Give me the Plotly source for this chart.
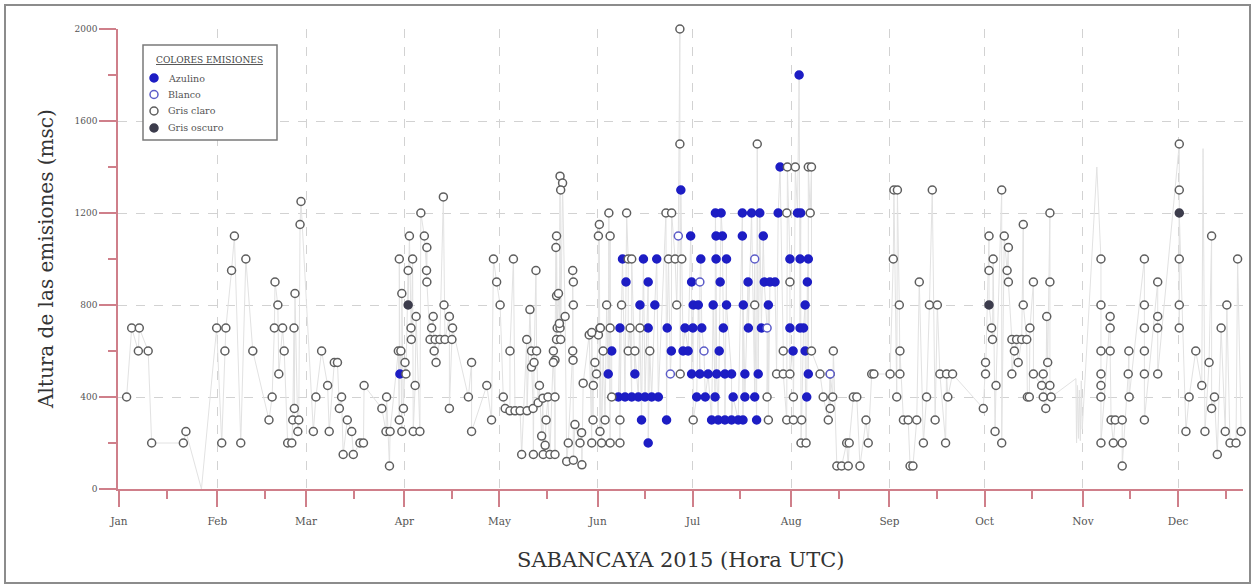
import numpy as np
import pandas as pd
import plotly.graph_objects as go

# ---- Emisiones del Sabancaya 2015: dia del año (fraccion = hora UTC) y altura (m sobre el crater) ----

azulino_dia = [89.6, 178.2, 215.5, 209.5,
               189.1, 190.9, 197.6, 203.1, 215.0, 216.0, 200.5, 208.9,
               181.3, 191.3, 197.6, 204.2, 189.3,
               166.4, 170.6, 184.5, 189.3, 192.6, 212.6, 215.8, 218.4, 159.8,
               181.6, 190.6, 199.4, 204.5, 206.3, 207.9, 218.1, 160.9, 167.9,
               170.0, 182.1, 183.7, 188.4, 192.6, 205.8, 217.4, 165.3, 197.9,
               167.9, 173.9, 179.5, 182.0, 184.8, 191.6, 199.5, 212.6, 215.8, 216.9, 159.0, 203.6,
               156.4, 178.9, 180.5, 190.3, 175.2, 213.6, 217.4,
               155.3, 181.6, 184.2, 186.8, 189.5, 192.1, 194.2, 198.4, 202.6, 218.4, 163.7,
               158.5, 160.6, 162.7, 164.8, 166.9, 169.0, 171.1, 183.2, 185.9, 189.0, 198.4, 201.5, 217.9, 194.7,
               173.7, 187.9, 190.0, 192.1, 194.2, 196.3, 197.8, 165.8, 202.1,
               167.9]
azulino_alt = [500, 1300, 1800, 1400,
               1200, 1200, 1200, 1200, 1200, 1200, 1200, 1200,
               1100, 1100, 1100, 1100, 1100,
               1000, 1000, 1000, 1000, 1000, 1000, 1000, 1000, 1000,
               900, 900, 900, 900, 900, 900, 900, 900, 900,
               800, 800, 800, 800, 800, 800, 800, 800, 800,
               700, 700, 700, 700, 700, 700, 700, 700, 700, 700, 700, 700,
               600, 600, 600, 600, 600, 600, 600,
               500, 500, 500, 500, 500, 500, 500, 500, 500, 500, 500,
               400, 400, 400, 400, 400, 400, 400, 400, 400, 400, 400, 400, 400, 400,
               300, 300, 300, 300, 300, 300, 300, 300, 300,
               200]

blanco_dia = [177.4, 184.2, 185.5, 201.5, 205.4, 174.9, 225.3]
blanco_alt = [1100, 900, 600, 1000, 700, 500, 500]

gris_claro_dia = [
    # enero - febrero
    3.4, 5.0, 7.4, 7.1, 10.2, 11.3, 21.3, 22.1,
    31.8, 34.7, 34.4, 33.4, 36.5, 37.4, 39.4, 41.0, 43.2,
    48.3, 49.3, 50.2, 51.1, 50.0, 52.6, 53.1, 51.4, 54.2, 55.5,
    56.3, 55.8, 57.7, 57.4, 56.2, 56.5, 58.1, 58.4,
    # marzo
    62.3, 63.1, 64.9, 66.8, 67.3, 68.9, 69.9, 71.2, 70.5, 73.0, 74.4, 71.7, 74.9,
    77.0, 78.1, 78.3, 83.9, 85.4, 85.2, 86.5, 86.3, 89.4,
    # abril
    90.7, 90.2, 93.8, 95.9, 91.5, 91.2, 89.1, 89.9, 94.4, 90.2, 94.7, 93.1, 93.2,
    89.4, 93.6, 92.2, 92.6, 97.3, 98.1, 98.0, 98.1, 96.2, 103.3, 103.5, 100.1, 105.2,
    99.6, 106.2, 99.1, 100.7, 102.2, 103.8, 106.0, 100.4, 101.0, 105.2, 111.2, 112.2,
    112.2, 117.0, 118.5,
    # mayo
    119.1, 120.1, 121.2, 122.2, 122.8, 124.3, 125.9, 127.5, 129.7, 131.6, 133.2, 134.7,
    136.3, 138.5, 125.4, 124.3, 128.0, 131.7, 134.8, 136.9, 138.5, 130.6, 132.5, 129.6,
    131.1, 132.7, 131.1, 133.6, 135.7, 134.3, 135.4, 138.5,
    139.0, 139.2, 139.0, 138.8, 139.0, 140.1, 140.9, 140.3, 139.6, 140.1, 140.3, 141.7, 139.9,
    144.2, 144.1, 144.3, 144.3, 144.1, 138.0, 138.0, 131.9, 147.4, 150.6,
    142.7, 146.4, 150.1, 142.2, 144.3, 147.0, 144.8, 146.9, 152.7,
    # junio - agosto
    153.2, 155.9, 159.0, 149.3, 152.2, 151.1, 152.5, 152.2, 155.9, 155.5, 161.1, 173.5,
    175.3, 177.9, 177.9, 202.3, 151.6, 153.7, 150.1, 152.7, 150.5, 154.3, 159.0, 156.4,
    161.6, 162.7, 174.3, 176.4, 178.5, 212.6,
    154.8, 159.5, 176.9, 201.5,
    152.8, 155.9, 162.2, 165.3,
    161.6, 163.7, 168.4, 210.5,
    178.0, 208.4, 210.5, 212.6,
    205.4, 213.7, 223.1, 226.1, 225.3,
    182.1, 205.8, 211.6, 213.7, 224.7,
    216.1, 217.7, 230.5,
    211.8, 214.3, 218.4, 211.6, 219.0,
    # fin de agosto - septiembre
    219.4, 219.4, 226.3, 222.1, 225.3, 232.6, 233.7, 216.3, 231.3, 237.3,
    227.4, 228.9, 231.0, 234.7, 236.6, 238.4, 239.1,
    244.2, 247.3, 245.4, 246.5, 245.2, 247.1, 247.3, 246.3, 248.4, 249.9, 252.6,
    250.5, 251.4, 257.5, 253.4, 256.6, 259.1, 255.7, 258.4, 254.7, 259.9, 262.0,
    263.9, 262.4, 261.7,
    # octubre
    273.6, 279.4, 275.4, 280.2, 281.5, 286.2, 276.7, 275.4, 281.1, 281.5, 286.2,
    276.2, 276.5, 282.6, 284.1, 285.7, 287.3, 283.4, 274.3, 284.6, 274.3, 282.6,
    277.6, 277.3, 279.4, 287.5, 294.6, 289.4, 294.6, 293.6, 288.3, 293.9, 289.4,
    292.5, 292.0, 294.6, 288.1, 292.5, 295.0, 293.3,
    # noviembre
    310.7, 310.7, 310.7, 310.7, 310.7, 310.7, 310.7, 313.6, 313.6, 313.6, 313.9,
    315.2, 317.4, 314.6, 317.4, 317.4, 319.5, 319.3, 319.6, 324.4, 324.4, 324.4,
    324.4, 324.4, 324.4, 328.6, 328.6, 328.6, 328.6,
    # diciembre
    335.4, 335.4, 335.4, 335.4, 335.4, 338.5, 337.5, 340.6, 342.5, 343.5, 344.8,
    345.6, 346.5, 345.6, 347.4, 348.6, 349.9, 350.4, 351.4, 353.3, 353.8, 354.9,
]
gris_claro_alt = [
    400, 700, 700, 600, 600, 200, 200, 250,
    700, 700, 600, 200, 950, 1100, 200, 1000, 600,
    300, 400, 900, 800, 700, 700, 600, 500, 200, 200,
    350, 300, 300, 250, 700, 850, 1150, 1250,
    250, 400, 600, 450, 250, 550, 550, 400, 350, 300, 250, 150, 150,
    200, 200, 450, 350, 400, 250, 250, 100, 300,
    350, 250, 250, 250, 500, 550, 600, 600, 450, 850, 750, 700, 650,
    1000, 1000, 950, 1100, 1100, 1050, 950, 900, 1200, 1270, 800, 750, 750,
    700, 700, 650, 650, 650, 650, 650, 600, 550, 350, 400, 550,
    250, 450, 300,
    1000, 900, 800, 400, 350, 340, 340, 340, 340, 350, 375, 395,
    400, 400, 1000, 600, 150, 150, 150, 150, 150, 780, 950, 650,
    600, 600, 530, 450, 300, 230, 190, 560,
    650, 700, 840, 1050, 1100, 1360, 1330, 1300, 850, 700, 650, 750, 720,
    560, 600, 800, 900, 950, 600, 550, 550, 460, 450,
    200, 200, 200, 120, 125, 105, 280, 245, 250,
    200, 200, 200, 670, 670, 550, 1150, 1100, 1100, 1200, 1200, 1200,
    1200, 2000, 1500, 1500, 500, 600, 680, 700, 300, 300, 300, 400,
    1000, 1000, 1000, 1000, 1000, 900,
    800, 800, 800, 800,
    700, 700, 700, 700,
    600, 600, 600, 600,
    500, 500, 500, 500,
    400, 400, 400, 400, 350,
    300, 300, 300, 300, 300,
    200, 200, 200,
    1400, 1400, 1400, 1200, 1200,
    1400, 600, 600, 500, 500, 400, 400, 300, 200, 200,
    100, 100, 100, 100, 300, 500, 500,
    500, 500, 1300, 1300, 1000, 800, 600, 400, 300, 300, 300,
    100, 100, 1300, 900, 800, 800, 400, 300, 200, 500, 500,
    500, 400, 200,
    350, 1300, 1100, 1100, 1050, 1150, 1000, 950, 950, 900, 800,
    700, 650, 650, 650, 650, 650, 600, 550, 550, 500, 500,
    450, 250, 200, 400, 1200, 900, 900, 750, 700, 550, 500,
    500, 450, 450, 400, 400, 400, 350,
    1000, 800, 600, 500, 450, 400, 200, 750, 700, 600, 300,
    300, 300, 200, 200, 100, 600, 500, 400, 1000, 800, 700,
    600, 500, 300, 900, 750, 700, 500,
    1500, 1300, 1000, 800, 700, 400, 250, 600, 450, 250, 550,
    1100, 400, 350, 150, 700, 250, 800, 200, 200, 1000, 250,
]

gris_oscuro_dia = [92.2, 275.4, 335.4]
gris_oscuro_alt = [800, 800, 1200]

# registros sin color asignado (solo aparecen en la serie continua)
sin_color_dia = [27.0, 302.8, 303.0, 303.3, 303.6, 303.9, 304.2, 304.5, 304.8, 309.4, 342.9]
sin_color_alt = [0, 480, 200, 450, 220, 430, 210, 470, 260, 1400, 1480]

INICIO = pd.Timestamp("2015-01-01")


def a_fecha(dias):
    return INICIO + pd.to_timedelta(np.asarray(dias, dtype=float) - 1.0, unit="D")


# serie continua ordenada en el tiempo
todos_dia = np.concatenate([azulino_dia, blanco_dia, gris_claro_dia, gris_oscuro_dia, sin_color_dia])
todos_alt = np.concatenate([azulino_alt, blanco_alt, gris_claro_alt, gris_oscuro_alt, sin_color_alt])
orden = np.argsort(todos_dia, kind="stable")

AXIS_RED = "#cf7f8a"
GRID = "#d2d2d2"
SERIF = "DejaVu Serif"

fig = go.Figure()

fig.add_trace(go.Scatter(
    x=a_fecha(todos_dia[orden]), y=todos_alt[orden], mode="lines",
    line=dict(color="#e2e2e2", width=1), hoverinfo="skip", showlegend=False,
))

estilos = [
    ("Azulino", azulino_dia, azulino_alt, "#1d1dc4", "#1d1dc4"),
    ("Gris claro", gris_claro_dia, gris_claro_alt, "white", "#5e5e5e"),
    ("Blanco", blanco_dia, blanco_alt, "white", "#5c5cc8"),
    ("Gris oscuro", gris_oscuro_dia, gris_oscuro_alt, "#3c3c4c", "#3c3c4c"),
]
for nombre, dia, alt, relleno, borde in estilos:
    fig.add_trace(go.Scatter(
        x=a_fecha(dia), y=alt, mode="markers", name=nombre, showlegend=False,
        marker=dict(symbol="circle", size=8, color=relleno, line=dict(color=borde, width=1.5)),
        cliponaxis=False,
    ))

# geometria del area de trazado (pixeles)
L, R, T, B = 118, 1243, 29, 489
W, H = R - L, B - T


def px(xp):
    return (xp - L) / W


def py(yp):
    return (B - yp) / H


shapes = [
    # marco exterior
    dict(type="rect", xref="paper", yref="paper", x0=px(5), x1=px(1250), y0=py(583), y1=py(5),
         line=dict(color="#8c8c8c", width=2), fillcolor="rgba(0,0,0,0)", layer="below"),
    # caja de la leyenda
    dict(type="rect", xref="paper", yref="paper", x0=px(143), x1=px(277), y0=py(140), y1=py(45),
         line=dict(color="#7a7a7a", width=1.5), fillcolor="white", layer="above"),
]

annotations = [
    dict(text="<u>COLORES EMISIONES</u>", xref="paper", yref="paper", x=px(209), y=py(60),
         showarrow=False, font=dict(family=SERIF, size=9, color="#444"), xanchor="center", yanchor="middle"),
    dict(text="SABANCAYA 2015 (Hora UTC)", xref="paper", yref="paper", x=0.5, y=py(560),
         showarrow=False, font=dict(family=SERIF, size=21, color="#333"), xanchor="center", yanchor="middle"),
    dict(text="Altura de las emisiones (msc)", xref="paper", yref="paper", x=px(46), y=0.5,
         showarrow=False, textangle=-90, font=dict(family=SERIF, size=20, color="#333"),
         xanchor="center", yanchor="middle"),
]

leyenda = [("Azulino", "#1d1dc4", "#1d1dc4", 78),
           ("Blanco", "white", "#5c5cc8", 94.5),
           ("Gris claro", "white", "#5e5e5e", 111),
           ("Gris oscuro", "#3c3c4c", "#3c3c4c", 128)]
rx, ry = 4 / W, 4 / H
for texto, relleno, borde, yy in leyenda:
    shapes.append(dict(type="circle", xref="paper", yref="paper",
                       x0=px(154) - rx, x1=px(154) + rx, y0=py(yy) - ry, y1=py(yy) + ry,
                       fillcolor=relleno, line=dict(color=borde, width=1.5), layer="above"))
    annotations.append(dict(text=texto, xref="paper", yref="paper", x=px(166), y=py(yy),
                            showarrow=False, xanchor="left", yanchor="middle",
                            font=dict(family=SERIF, size=9.5, color="#555")))

meses_menores = pd.date_range("2015-01-01", "2015-12-01", freq="MS") + pd.Timedelta(days=15)

fig.update_layout(
    width=1255, height=586,
    margin=dict(l=L, r=1255 - R, t=T, b=586 - B),
    paper_bgcolor="white", plot_bgcolor="white",
    shapes=shapes, annotations=annotations,
    showlegend=False,
    xaxis=dict(
        type="date",
        range=[a_fecha([0.685])[0], a_fecha([355.5])[0]],
        tickmode="linear", tick0="2015-01-01", dtick="M1", tickformat="%b",
        ticks="outside", ticklen=16, tickwidth=1.5, tickcolor=AXIS_RED,
        showline=True, linecolor=AXIS_RED, linewidth=1.5,
        showgrid=True, gridcolor=GRID, griddash="dash", gridwidth=1,
        zeroline=False, ticklabelstandoff=6,
        tickfont=dict(family=SERIF, size=10.5, color="#555"),
        minor=dict(tickmode="array", tickvals=list(meses_menores),
                   ticks="outside", ticklen=8, tickwidth=1.5, tickcolor=AXIS_RED, showgrid=False),
    ),
    yaxis=dict(
        range=[0, 2000], tickmode="linear", tick0=0, dtick=400,
        ticks="outside", ticklen=17, tickwidth=1.5, tickcolor=AXIS_RED,
        showline=True, linecolor=AXIS_RED, linewidth=1.5,
        showgrid=True, gridcolor=GRID, griddash="dash", gridwidth=1,
        zeroline=False,
        tickfont=dict(family=SERIF, size=9, color="#555"),
        minor=dict(dtick=200, ticks="outside", ticklen=8, tickwidth=1.5, tickcolor=AXIS_RED, showgrid=False),
    ),
)

fig.write_html("out.html")
